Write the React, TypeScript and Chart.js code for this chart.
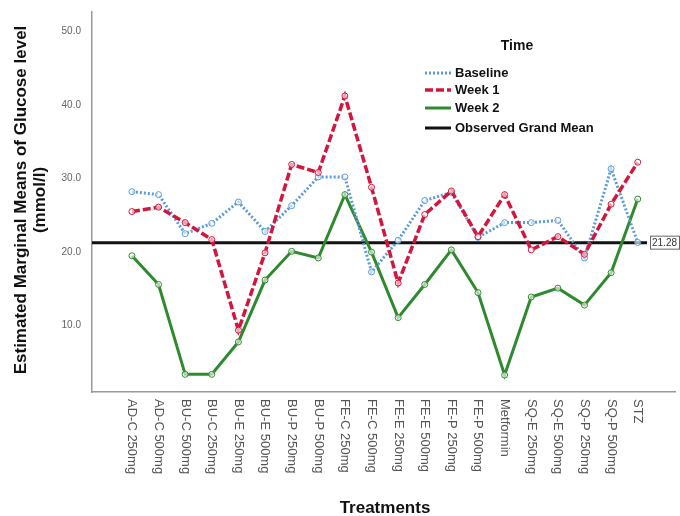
import React, { useEffect, useRef } from "react";
import { Chart, registerables } from "chart.js";

Chart.register(...registerables);

const categories = [
  "AD-C 250mg", "AD-C 500mg", "BU-C 500mg", "BU-C 250mg", "BU-E 250mg",
  "BU-E 500mg", "BU-P 250mg", "BU-P 500mg", "FE-C 250mg", "FE-C 500mg",
  "FE-E 250mg", "FE-E 500mg", "FE-P 250mg", "FE-P 500mg", "Metformin",
  "SQ-E 250mg", "SQ-E 500mg", "SQ-P 250mg", "SQ-P 500mg", "STZ",
];
const baseline = [28.2, 27.8, 22.5, 23.9, 26.8, 22.8, 26.3, 30.2, 30.2, 17.3, 21.6, 27.0, 28.1, 22.0, 24.0, 24.0, 24.3, 19.2, 31.3, 21.3];
const week1 = [25.5, 26.1, 24.0, 21.7, 9.4, 19.9, 31.9, 30.8, 41.2, 28.8, 15.8, 25.1, 28.3, 22.1, 27.8, 20.3, 22.1, 19.7, 26.5, 32.2];
const week2 = [19.5, 15.6, 3.4, 3.4, 7.8, 16.2, 20.1, 19.2, 27.8, 20.0, 11.1, 15.6, 20.3, 14.5, 3.3, 13.9, 15.1, 12.8, 17.2, 27.2];
const grandMean = 21.28;
const yTicks = [10, 20, 30, 40, 50];
const seriesNames = ["Baseline", "Week 1", "Week 2", "Observed Grand Mean"];

const BLUE = "#5b9bd8";
const RED = "#d2173f";
const GREEN = "#2f8a2f";
const BLACK = "#111111";
const FONT = "'Liberation Sans', Arial, sans-serif";

const toXY = (arr: number[]) => arr.map((v, i) => ({ x: i, y: v }));

export default function App() {
  const ref = useRef<HTMLCanvasElement | null>(null);

  useEffect(() => {
    if (!ref.current) return;
    const overlay = {
      id: "overlay",
      afterDraw(chart: any) {
        const ctx = chart.ctx;
        const xs = chart.scales.x;
        const ys = chart.scales.y;
        ctx.save();
        // x category labels, rotated clockwise
        ctx.fillStyle = "#555";
        ctx.font = `13px ${FONT}`;
        ctx.textAlign = "left";
        ctx.textBaseline = "middle";
        categories.forEach((c, i) => {
          const px = xs.getPixelForValue(i);
          ctx.save();
          ctx.translate(px, ys.bottom + 7);
          ctx.rotate(Math.PI / 2);
          ctx.fillText(c, 0, 0);
          ctx.restore();
        });
        // axis titles
        ctx.fillStyle = "#111";
        ctx.font = `bold 17px ${FONT}`;
        ctx.textAlign = "center";
        ctx.textBaseline = "middle";
        ctx.fillText("Treatments", 385, 508);
        ctx.save();
        ctx.translate(21, 200);
        ctx.rotate(-Math.PI / 2);
        ctx.fillText("Estimated Marginal Means of Glucose level", 0, 0);
        ctx.fillText("(mmol/l)", 0, 19);
        ctx.restore();
        // grand mean label box
        const gy = ys.getPixelForValue(grandMean);
        ctx.fillStyle = "#fff";
        ctx.fillRect(650, gy - 7, 30, 14);
        ctx.strokeStyle = "#666";
        ctx.lineWidth = 1;
        ctx.strokeRect(650.5, gy - 6.5, 29, 13);
        ctx.fillStyle = "#333";
        ctx.font = `10px ${FONT}`;
        ctx.textAlign = "left";
        ctx.fillText(grandMean.toFixed(2), 652, gy + 0.5);
        // legend
        ctx.fillStyle = "#111";
        ctx.font = `bold 14px ${FONT}`;
        ctx.textAlign = "center";
        ctx.fillText("Time", 517, 46);
        const styles = [
          { c: BLUE, d: [2, 2], w: 3 },
          { c: RED, d: [8, 3], w: 3.5 },
          { c: GREEN, d: [], w: 3 },
          { c: BLACK, d: [], w: 3 },
        ];
        const ly = [73, 90, 108, 128];
        seriesNames.forEach((n, i) => {
          ctx.strokeStyle = styles[i].c;
          ctx.lineWidth = styles[i].w;
          ctx.setLineDash(styles[i].d);
          ctx.beginPath();
          ctx.moveTo(425, ly[i]);
          ctx.lineTo(451, ly[i]);
          ctx.stroke();
          ctx.setLineDash([]);
          ctx.fillStyle = "#111";
          ctx.font = `bold 13px ${FONT}`;
          ctx.textAlign = "left";
          ctx.fillText(n, 455, ly[i]);
        });
        ctx.restore();
      },
    };

    const pointOpts = (c: string) => ({
      pointRadius: 3,
      pointBorderWidth: 1,
      pointBackgroundColor: "rgba(255,255,255,0.6)",
      pointBorderColor: c,
    });

    const chart = new Chart(ref.current, {
      type: "line",
      data: {
        datasets: [
          {
            label: seriesNames[3],
            data: [{ x: -1.5, y: grandMean }, { x: 19.35, y: grandMean }],
            borderColor: BLACK,
            borderWidth: 3,
            pointRadius: 0,
            order: 4,
          },
          {
            label: seriesNames[2],
            data: toXY(week2),
            borderColor: GREEN,
            borderWidth: 3,
            ...pointOpts(GREEN),
            order: 3,
          },
          {
            label: seriesNames[0],
            data: toXY(baseline),
            borderColor: BLUE,
            borderWidth: 3,
            borderDash: [2, 2],
            ...pointOpts(BLUE),
            order: 2,
          },
          {
            label: seriesNames[1],
            data: toXY(week1),
            borderColor: RED,
            borderWidth: 3.5,
            borderDash: [8, 3],
            ...pointOpts(RED),
            order: 1,
          },
        ],
      },
      options: {
        animation: false,
        responsive: false,
        maintainAspectRatio: false,
        layout: { padding: { top: 12, left: 0, right: 0, bottom: 0 } },
        plugins: { legend: { display: false }, tooltip: { enabled: false } },
        scales: {
          x: {
            type: "linear",
            min: -1.5,
            max: 20.4,
            grid: { display: false, drawTicks: false },
            border: { color: "#999", width: 1.5 },
            ticks: { display: false },
            afterFit: (s: any) => {
              s.height = 124;
              s.paddingLeft = 0; s.paddingRight = 0; s.paddingTop = 0; s.paddingBottom = 0;
            },
          },
          y: {
            type: "linear",
            min: 1,
            max: 52.6,
            grid: { display: false, drawTicks: false },
            border: { color: "#999", width: 1.5 },
            afterBuildTicks: (s: any) => { s.ticks = yTicks.map((v) => ({ value: v })); },
            ticks: {
              padding: 11,
              color: "#666",
              font: { size: 10, family: FONT },
              callback: (v: any) => Number(v).toFixed(1),
            },
            afterFit: (s: any) => {
              s.width = 92;
              s.paddingLeft = 0; s.paddingRight = 0; s.paddingTop = 0; s.paddingBottom = 0;
            },
          },
        },
      },
      plugins: [overlay],
    } as any);
    return () => chart.destroy();
  }, []);

  return (
    <div style={{ position: "fixed", left: 0, top: 0, width: 680, height: 516, background: "#fff" }}>
      <canvas ref={ref} width={680} height={516} style={{ width: 680, height: 516 }} />
    </div>
  );
}
